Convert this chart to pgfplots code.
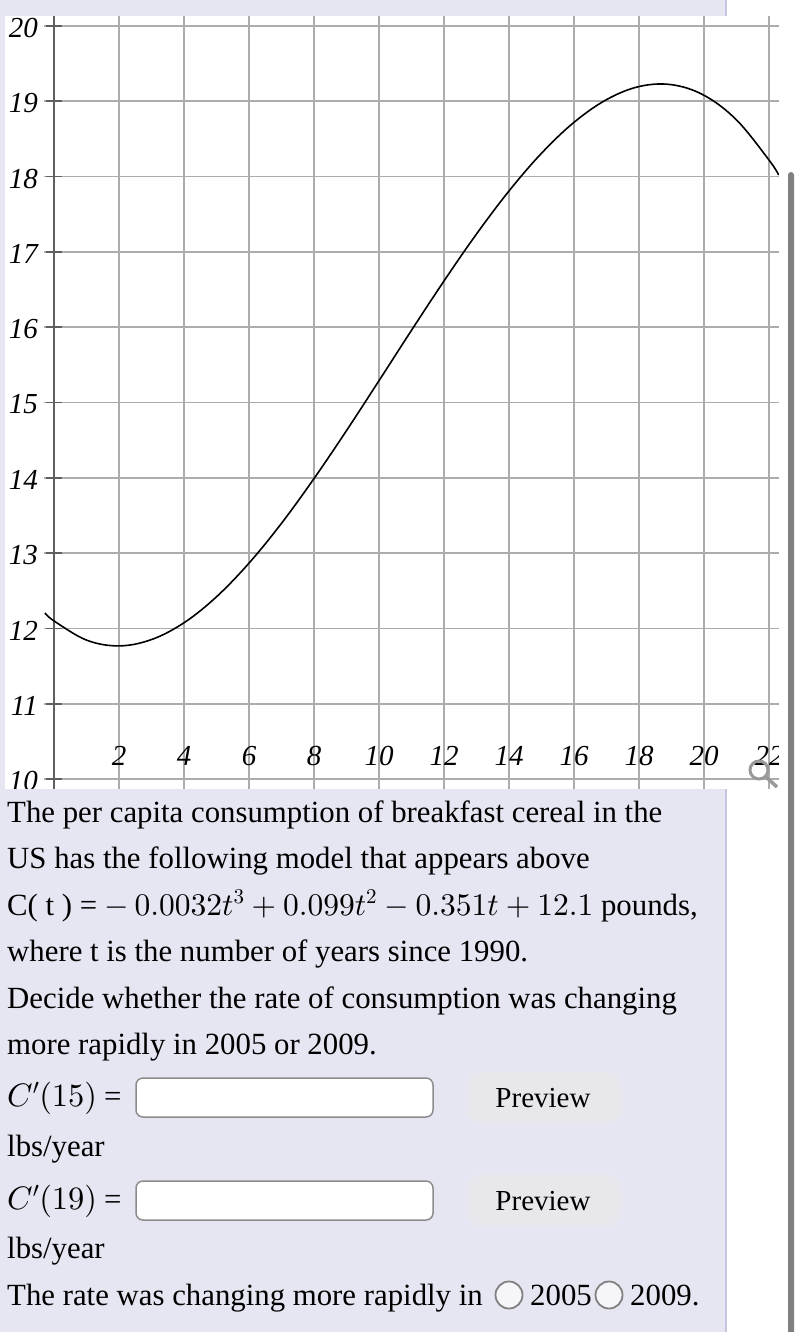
\documentclass[border=0pt]{standalone}
\usepackage[no-math]{fontspec}
\setmainfont{Liberation Serif}
\usepackage{pgfplots}
\pgfplotsset{compat=1.18}
% heavier math shapes at large sizes, as in the reference
\DeclareFontShape{OT1}{cmr}{m}{n}{<->cmr10}{}
\DeclareFontShape{OML}{cmm}{m}{it}{<->cmmi10}{}
\DeclareFontShape{OMS}{cmsy}{m}{n}{<->cmsy10}{}
\DeclareMathSizes{32.5}{32.5}{22}{16}
\DeclareMathSizes{31.5}{31.5}{21}{16}
\definecolor{panel}{RGB}{230,230,242}
\definecolor{panelline}{RGB}{198,198,228}
\definecolor{gridc}{RGB}{172,172,172}
\definecolor{axisc}{RGB}{95,95,95}
\definecolor{btn}{RGB}{232,232,236}
\definecolor{boxline}{RGB}{140,140,140}
\newcommand{\bodyfont}{\fontsize{30.8}{34}\selectfont}
\newcommand{\mth}[1]{{\fontsize{32.5}{36}\selectfont $#1$}}
\newcommand{\mthf}[1]{{\fontsize{31.5}{36}\selectfont $#1$}}
\newcommand{\bodyline}[2]{\node[anchor=base west,inner sep=0pt,text=black] at (7pt,-#1pt) {\bodyfont #2};}
\begin{document}
\begin{tikzpicture}
\useasboundingbox (0,0) rectangle (800pt,-1332pt);
\fill[white] (0,0) rectangle (800pt,-1332pt);
\fill[panel] (0,0) rectangle (726pt,-16pt);
\fill[panel] (0,0) rectangle (5pt,-800pt);
\begin{axis}[
    at={(54pt,-788.8pt)}, anchor=origin,
    x=32.5pt, y=75.3pt,
    xmin=-0.3, xmax=22.3, ymin=9.87, ymax=20.13,
    axis x line=center, axis y line=center,
    x axis line style={draw=none,-},
    y axis line style={draw=axisc,line width=2pt,-},
    xtick={2,4,...,22}, ytick={10,11,...,20},
    xmajorgrids, ymajorgrids,
    grid style={draw=gridc,line width=1.7pt},
    tick align=center,
    major tick length=17pt,
    xtick style={draw=none},
    ytick style={draw=axisc,line width=1.7pt},
    /pgf/number format/assume math mode=true,
    tick label style={font=\fontsize{29}{29}\selectfont\itshape,text=black},
    xticklabel style={anchor=base,yshift=32pt,inner sep=0pt},
    yticklabel style={anchor=east,inner sep=0pt,xshift=-7.5pt,yshift=-2pt},
    clip=true,
]
\addplot[black,line width=1.6pt,smooth,tension=0.6] coordinates {
    (-0.28,12.206) (0,12.10) (1,11.845) (2,11.768) (3,11.852) (4,12.075)
    (5,12.42) (6,12.867) (7,13.396) (8,13.99) (9,14.627) (10,15.29)
    (11,15.959) (12,16.614) (13,17.238) (14,17.809) (15,18.31) (16,18.721)
    (17,19.022) (18,19.196) (19,19.221) (20,19.08) (21,18.753) (22,18.22)
    (22.3,18.02)
};
\end{axis}
% page around the graph
\fill[panel] (0,-789pt) rectangle (726pt,-1332pt);
\draw[panelline,line width=1.5pt] (726pt,0) -- (726pt,-16pt);
\draw[panelline,line width=1.5pt] (726pt,-789pt) -- (726pt,-1332pt);
\fill[white] (779pt,0) rectangle (800pt,-790pt);
% magnifier
\draw[black!40,line width=3pt] (759pt,-770pt) circle (9pt);
\draw[black!40,line width=3.5pt] (766pt,-777pt) -- (777pt,-787pt);
% scrollbar
\fill[black!50,rounded corners=3pt] (788pt,-172pt) rectangle (794pt,-1340pt);
% question text
\bodyline{822}{The per capita consumption of breakfast cereal in the}
\bodyline{868}{US has the following model that appears above}
\bodyline{915}{C( t ) = \mthf{-\,0.0032t^3+0.099t^2-0.351t+12.1} pounds,}
\bodyline{961}{where t is the number of years since 1990.}
\bodyline{1008}{Decide whether the rate of consumption was changing}
\bodyline{1054}{more rapidly in 2005 or 2009.}
\bodyline{1106}{\mth{C'(15)}\hspace{7pt}=}
\bodyline{1156}{lbs/year}
\bodyline{1209}{\mth{C'(19)}\hspace{7pt}=}
\bodyline{1258}{lbs/year}
\bodyline{1305}{The rate was changing more rapidly in}
% inputs and buttons
\foreach \y in {1078,1181} {
  \filldraw[fill=white,draw=boxline,line width=1.5pt,rounded corners=7pt] (136pt,-\y pt) rectangle (433pt,-\y pt-39pt);
  \fill[btn,rounded corners=14pt] (467pt,-\y pt+6pt) rectangle (621pt,-\y pt-45pt);
  \node[anchor=base,inner sep=0pt] at (543pt,-\y pt-29pt) {\fontsize{29}{32}\selectfont Preview};
}
% radio buttons
\filldraw[fill=panel!40!white,draw=gray,line width=1.8pt] (509pt,-1295pt) circle (13.5pt);
\filldraw[fill=panel!40!white,draw=gray,line width=1.8pt] (609pt,-1295pt) circle (13.5pt);
\node[anchor=base west,inner sep=0pt] at (530pt,-1305pt) {\bodyfont 2005};
\node[anchor=base west,inner sep=0pt] at (630pt,-1305pt) {\bodyfont 2009.};
\end{tikzpicture}
\end{document}
